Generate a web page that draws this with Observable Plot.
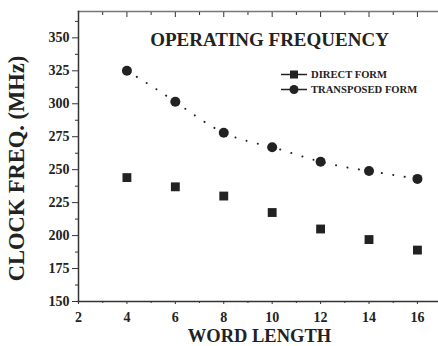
<!DOCTYPE html>
<html><head><meta charset="utf-8">
<script src="https://cdn.jsdelivr.net/npm/d3@7"></script>
<script src="https://cdn.jsdelivr.net/npm/@observablehq/plot@0.6"></script>
<style>
body{margin:0;background:#fff}
#c{position:relative;width:438px;height:346px;font-family:"Liberation Serif",serif;font-weight:bold}
#legend{position:absolute;left:280px;top:67px;font-size:10.6px;color:#222}
#legend div{display:flex;align-items:center;height:15px}
#legend svg{margin-right:3px}
</style>
</head><body><div id="c"><div id="legend"></div></div>
<script>
const wordLength = [4, 6, 8, 10, 12, 14, 16];
const directForm = [244, 237, 230, 217.5, 205, 197, 189];
const transposedForm = [325, 301.5, 278, 267, 256, 249, 243];
const xTicks = [2, 4, 6, 8, 10, 12, 14, 16];
const xMinor = [3, 5, 7, 9, 11, 13, 15];
const yTicks = [150, 175, 200, 225, 250, 275, 300, 325, 350];
const yMinor = [162.5, 187.5, 212.5, 237.5, 262.5, 287.5, 312.5, 337.5, 362.5];
const seriesNames = ["DIRECT FORM", "TRANSPOSED FORM"];
const title = "OPERATING FREQUENCY";
const xLabel = "WORD LENGTH";
const yLabel = "CLOCK FREQ. (MHz)";

const direct = wordLength.map((x, i) => ({x, y: directForm[i]}));
const transposed = wordLength.map((x, i) => ({x, y: transposedForm[i]}));

const ink = "#222";
const chart = Plot.plot({
  width: 438, height: 346,
  marginLeft: 78, marginTop: 11, marginBottom: 45, marginRight: 0,
  style: {fontFamily: "Liberation Serif", fontWeight: "bold", fontSize: "14px", color: ink, background: "#fff"},
  x: {domain: [2, 16.87]},
  y: {domain: [150, 370]},
  marks: [
    Plot.frame({anchor: "top", stroke: "#777", strokeWidth: 1.5}),
    Plot.frame({anchor: "left", stroke: "#333", strokeWidth: 1.5}),
    Plot.frame({anchor: "bottom", stroke: "#333", strokeWidth: 1.5}),
    Plot.axisY(yTicks, {tickSize: 6, tickPadding: 3, label: null, fontSize: 14, stroke: "#333"}),
    Plot.axisY(yMinor, {tickSize: 3, tickFormat: () => "", label: null, stroke: "#333"}),
    Plot.axisX(xTicks, {anchor: "bottom", tickSize: 3, tickPadding: 8, label: null, fontSize: 14, stroke: "#333"}),
    Plot.axisX(xMinor, {anchor: "bottom", tickSize: 2, tickFormat: () => "", label: null, stroke: "#333"}),
    Plot.axisX(xTicks, {anchor: "top", tickSize: -5, tickFormat: () => "", label: null, stroke: "#333"}),
    Plot.axisX(xMinor, {anchor: "top", tickSize: -3, tickFormat: () => "", label: null, stroke: "#333"}),
    Plot.line(transposed, {x: "x", y: "y", curve: "natural", stroke: ink, strokeWidth: 2, strokeDasharray: "0.1,11.5", strokeLinecap: "round"}),
    Plot.dot(direct, {x: "x", y: "y", symbol: "square", r: 5, fill: ink, stroke: "none"}),
    Plot.dot(transposed, {x: "x", y: "y", symbol: "circle", r: 5, fill: ink, stroke: "none"}),
    Plot.text([title], {frameAnchor: "top", lineAnchor: "middle", dx: 11, dy: 28, fontSize: 19, fill: ink}),
    Plot.text([xLabel], {frameAnchor: "bottom", lineAnchor: "middle", dx: 1, dy: 35, fontSize: 18.5, fill: ink}),
    Plot.text([yLabel], {frameAnchor: "left", textAnchor: "middle", lineAnchor: "middle", rotate: -90, dx: -62, dy: 12, fontSize: 22.5, fill: ink})
  ]
});
document.getElementById("c").prepend(chart);

const legend = document.getElementById("legend");
seriesNames.forEach((name, i) => {
  const row = document.createElement("div");
  const shape = i === 0
    ? `<rect x="10" y="3.5" width="8" height="8" fill="${ink}"/>`
    : `<circle cx="14" cy="7.5" r="4.5" fill="${ink}"/>`;
  row.innerHTML = `<svg width="28" height="15"><line x1="1" x2="27" y1="7.5" y2="7.5" stroke="${ink}" stroke-width="1.5"/>${shape}</svg><span>${name}</span>`;
  legend.appendChild(row);
});
</script>
</body></html>
